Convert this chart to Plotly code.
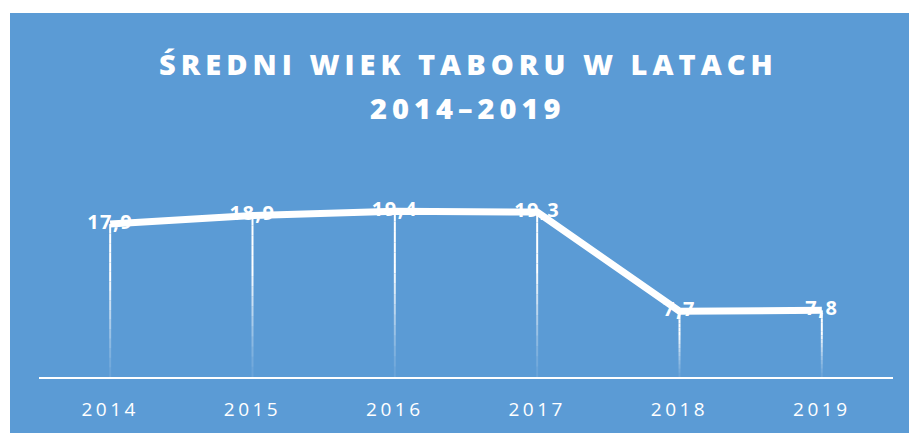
import plotly.graph_objects as go

years = ["2014", "2015", "2016", "2017", "2018", "2019"]
values = [17.9, 18.9, 19.4, 19.3, 7.7, 7.8]
labels = ["17,9", "18,9", "19,4", "19,3", "7,7", "7,8"]
title_line1 = "ŚREDNI WIEK TABORU W LATACH"
title_line2 = "2014–2019"

BLUE = "#5B9BD5"
FONT = "Open Sans"

fig = go.Figure()

# gradient drop lines (white at top fading toward the axis)
n_seg = 16
for k in range(n_seg):
    f0 = k / n_seg
    f1 = (k + 1) / n_seg
    fm = (f0 + f1) / 2
    alpha = 0.08 + 0.92 * min(1.0, fm / 0.65) ** 1.3
    xs, ys = [], []
    for yr, v in zip(years, values):
        xs += [yr, yr, None]
        ys += [v * f0, v * f1, None]
    fig.add_trace(go.Scatter(
        x=xs, y=ys, mode="lines",
        line=dict(color=f"rgba(255,255,255,{alpha:.3f})", width=2),
        hoverinfo="skip", showlegend=False,
    ))

fig.add_trace(go.Scatter(
    x=years, y=values, mode="lines+text",
    line=dict(color="white", width=7),
    text=[f"<span style='letter-spacing:1.5px'>{t}</span>" for t in labels],
    textposition="middle center",
    textfont=dict(family=FONT, size=20, color="white", weight=700),
    hoverinfo="skip", showlegend=False,
))

L, R, T, B = 39, 16, 189, 56
W, H = 909, 433
plot_h = H - T - B
plot_w = W - L - R

def py(pix):
    return (H - B - pix) / plot_h

def px(pix):
    return (pix - L) / plot_w

fig.update_layout(
    width=W, height=H,
    margin=dict(l=L, r=R, t=T, b=B, pad=0),
    paper_bgcolor="white",
    plot_bgcolor="rgba(0,0,0,0)",
    showlegend=False,
    shapes=[dict(
        type="rect", xref="paper", yref="paper",
        x0=px(10), x1=px(915), y0=py(440), y1=py(13),
        fillcolor=BLUE, line=dict(width=0), layer="below",
    )],
    annotations=[
        dict(text=f"<span style='letter-spacing:5px'>{title_line1}</span>",
             xref="paper", yref="paper", x=px(468), y=py(63),
             xanchor="center", yanchor="middle", showarrow=False,
             font=dict(family=FONT, size=29, color="white", weight=800)),
        dict(text=f"<span style='letter-spacing:5px'>{title_line2}</span>",
             xref="paper", yref="paper", x=px(467), y=py(107),
             xanchor="center", yanchor="middle", showarrow=False,
             font=dict(family=FONT, size=29, color="white", weight=800)),
    ],
    xaxis=dict(
        type="category", range=[-0.5, 5.5],
        showline=True, linecolor="white", linewidth=2,
        showgrid=False, zeroline=False,
        ticks="", ticklabelstandoff=14,
        tickmode="array", tickvals=years,
        ticktext=[f"<span style='letter-spacing:3.5px'>{y}</span>" for y in years],
        tickfont=dict(family=FONT, size=19, color="white"),
        fixedrange=True,
    ),
    yaxis=dict(
        range=[0, 22], visible=False, showgrid=False, zeroline=False,
        fixedrange=True,
    ),
)

fig.write_html(
    "out.html",
    config={"displayModeBar": False},
    post_script="document.body.style.margin='0';document.body.style.padding='0';",
)
